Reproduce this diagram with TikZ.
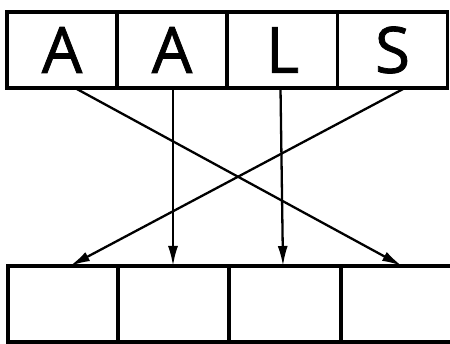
\documentclass[tikz,border=0pt]{standalone}
\usepackage{fontspec}
\setmainfont{Open Sans}[FakeBold=1.2]
\usetikzlibrary{arrows.meta,calc}
\begin{document}
\begin{tikzpicture}[x=1pt,y=1pt,
  cell/.style={draw,line width=3.2pt,minimum width=110pt,minimum height=76pt,inner sep=0pt,outer sep=0pt,font=\fontsize{64}{64}\selectfont},
  link/.style={line width=2.3pt,-{Latex[length=20pt,width=10pt]}}]
\useasboundingbox (0,0) rectangle (450,343);
\node[cell] (t1) at (62,293) {A};
\node[cell] (t2) at (172,293) {A};
\node[cell] (t3) at (282.5,293) {L};
\node[cell] (t4) at (392.5,293) {S};
\node[cell] (b1) at (63,39) {};
\node[cell] (b2) at (173.5,39) {};
\node[cell,minimum width=111pt] (b3) at (285,39) {};
\node[cell,minimum width=112pt] (b4) at (397,39) {};
\draw[link] ($(t1.south)+(13,0)$) -- ($(b4.north)+(5,0)$);
\draw[link] ($(t2.south)+(1,0)$) -- ($(b2.north)+(-0.5,0)$);
\draw[link] ($(t3.south)+(-2,0)$) -- ($(b3.north)+(-2,0)$);
\draw[link] ($(t4.south)+(12.5,0)$) -- ($(b1.north)+(7,0)$);
\end{tikzpicture}
\end{document}
